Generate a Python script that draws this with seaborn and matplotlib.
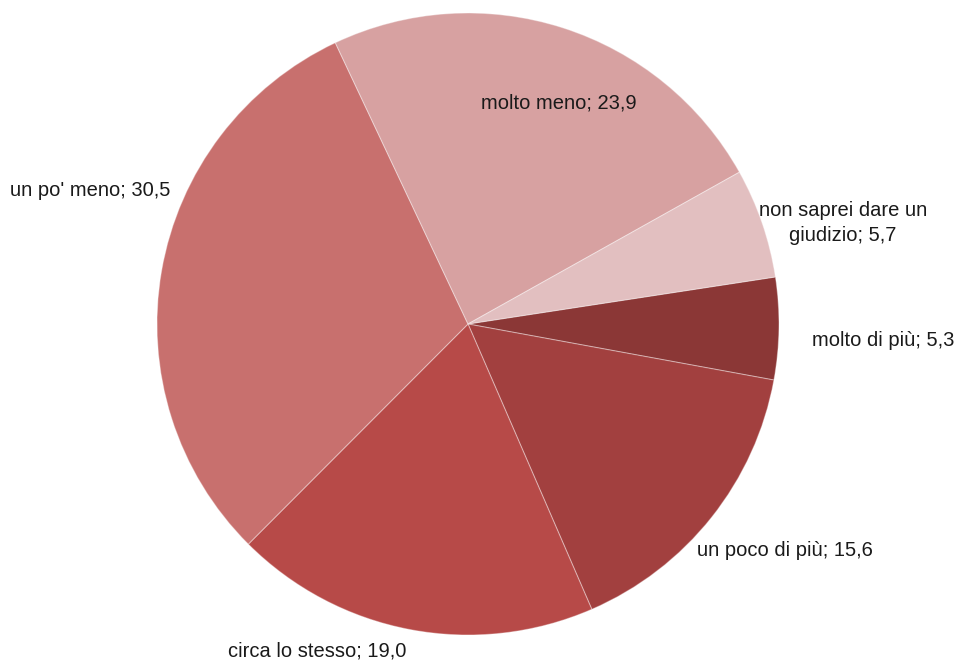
import matplotlib
matplotlib.use("Agg")
import matplotlib.pyplot as plt
import seaborn as sns

categories = ["molto di più", "un poco di più", "circa lo stesso", "un po' meno", "molto meno", "non saprei dare un\ngiudizio"]
values = [5.3, 15.6, 19.0, 30.5, 23.9, 5.7]
colors = ["#8B3736", "#A2403F", "#B74A48", "#C8706E", "#D7A1A1", "#E2BFC0"]
label_texts = ["molto di più; 5,3", "un poco di più; 15,6", "circa lo stesso; 19,0",
               "un po' meno; 30,5", "molto meno; 23,9", "non saprei dare un\ngiudizio; 5,7"]

sns.set_style("white")
plt.rcParams['font.family'] = ['Liberation Sans Narrow', 'Liberation Sans', 'DejaVu Sans']

W, H = 957, 664
fig = plt.figure(figsize=(W / 100, H / 100), dpi=100)
ax = fig.add_axes([0, 0, 1, 1])
ax.set_xlim(0, W)
ax.set_ylim(0, H)
ax.set_aspect('equal')
ax.axis('off')

cx, cy, r = 468, H - 324, 311
ax.pie(values, colors=colors, startangle=8.7, counterclock=False,
       center=(cx, cy), radius=r, frame=False,
       wedgeprops=dict(edgecolor=(1, 1, 1, 0.35), linewidth=0.8))
ax.set_xlim(0, W)
ax.set_ylim(0, H)
ax.axis('off')

label_pos = [(883, 340), (785, 551), (317, 651), (90, 190), (559, 103), (843, 223)]
for (x, y), t in zip(label_pos, label_texts):
    ax.text(x, H - y, t, ha='center', va='center', fontsize=14.5, color='#1a1a1a',
            linespacing=1.35)

fig.savefig("out.png", dpi=100)
